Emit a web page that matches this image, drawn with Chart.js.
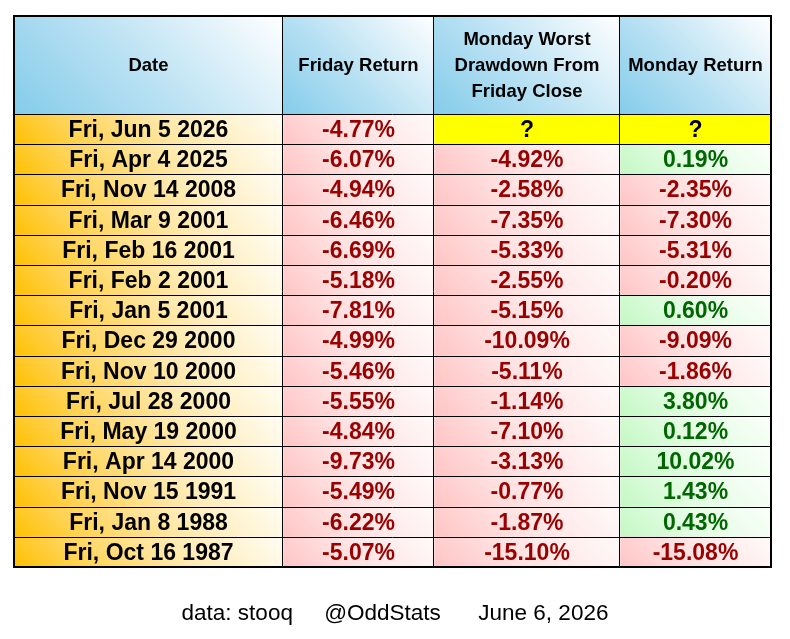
<!DOCTYPE html>
<html>
<head>
<meta charset="utf-8">
<script src="https://cdn.jsdelivr.net/npm/chart.js@4.4.0/dist/chart.umd.min.js"></script>
<style>
  html, body { margin: 0; padding: 0; background: #fff; }
  #wrap { width: 790px; height: 639px; }
</style>
</head>
<body>
<div id="wrap"><canvas id="oddChart"></canvas></div>
<script>
const dates = [
    'Fri, Jun 5 2026', 'Fri, Apr 4 2025', 'Fri, Nov 14 2008', 'Fri, Mar 9 2001',
    'Fri, Feb 16 2001', 'Fri, Feb 2 2001', 'Fri, Jan 5 2001', 'Fri, Dec 29 2000',
    'Fri, Nov 10 2000', 'Fri, Jul 28 2000', 'Fri, May 19 2000', 'Fri, Apr 14 2000',
    'Fri, Nov 15 1991', 'Fri, Jan 8 1988', 'Fri, Oct 16 1987'
];
const fridayReturn = [-4.77, -6.07, -4.94, -6.46, -6.69, -5.18, -7.81, -4.99, -5.46, -5.55, -4.84, -9.73, -5.49, -6.22, -5.07];
const mondayDrawdown = [null, -4.92, -2.58, -7.35, -5.33, -2.55, -5.15, -10.09, -5.11, -1.14, -7.10, -3.13, -0.77, -1.87, -15.10];
const mondayReturn = [null, 0.19, -2.35, -7.30, -5.31, -0.20, 0.60, -9.09, -1.86, 3.80, 0.12, 10.02, 1.43, 0.43, -15.08];
const headers = [
    ['Date'],
    ['Friday Return'],
    ['Monday Worst', 'Drawdown From', 'Friday Close'],
    ['Monday Return']
];
const footerText = 'data: stooq     @OddStats      June 6, 2026';

// layout (pixels / column widths in x-scale units)
const colEdges = [0, 269, 420, 606, 757];
const headerHeight = 98;
const FONT = "'Liberation Sans', Arial, sans-serif";

const columns = [dates, fridayReturn, mondayDrawdown, mondayReturn];

// gradient stops: bottom-left -> top-right
const fills = {
    header: [[0, '#84CCEA'], [0.45, '#B9E1F3'], [1, '#FFFFFF']],
    date: [[0, '#FFC000'], [0.22, '#FFD250'], [0.6, '#FFEAB0'], [1, '#FFFDF4']],
    neg: [[0, '#FFC4C4'], [0.4, '#FFE0E0'], [1, '#FFFAFA']],
    pos: [[0, '#C4F8C4'], [0.4, '#E0FCE0'], [1, '#FAFFFA']],
    unknown: [[0, '#FFFF00'], [1, '#FFFF00']]
};
const textColors = { date: '#000000', neg: '#990000', pos: '#006600', unknown: '#000000' };

const cellKind = (c, i) => {
    if (c === 0) return 'date';
    const v = columns[c][i];
    if (v === null) return 'unknown';
    return v < 0 ? 'neg' : 'pos';
};

const cellText = (c, i) => {
    const v = columns[c][i];
    if (c === 0) return v;
    return v === null ? '?' : v.toFixed(2) + '%';
};

// 45 degree gradient from bottom-left corner to top-right corner
const diagGradient = (ctx, x0, y0, x1, y1, stops) => {
    const L = ((x1 - x0) + (y1 - y0)) / 2;
    const g = ctx.createLinearGradient(x0, y1, x0 + L, y1 - L);
    stops.forEach(s => g.addColorStop(s[0], s[1]));
    return g;
};

const cellFill = (context, c) => {
    const chart = context.chart;
    const { x, y } = chart.scales;
    if (!x || !y || context.dataIndex === undefined || !chart.chartArea) return '#ffffff';
    const i = context.dataIndex;
    const half = (chart.chartArea.bottom - chart.chartArea.top) / (2 * dates.length);
    const yc = y.getPixelForValue(i);
    return diagGradient(chart.ctx,
        x.getPixelForValue(colEdges[c]), yc - half,
        x.getPixelForValue(colEdges[c + 1]), yc + half,
        fills[cellKind(c, i)]);
};

const tablePlugin = {
    id: 'oddTable',
    beforeDatasetsDraw(chart) {
        const { ctx, chartArea, scales: { x } } = chart;
        const top = chartArea.top - headerHeight;
        ctx.save();
        headers.forEach((lines, c) => {
            const x0 = x.getPixelForValue(colEdges[c]);
            const x1 = x.getPixelForValue(colEdges[c + 1]);
            ctx.fillStyle = diagGradient(ctx, x0, top, x1, chartArea.top, fills.header);
            ctx.fillRect(x0, top, x1 - x0, headerHeight);
            ctx.fillStyle = '#000';
            ctx.font = 'bold 18.5px ' + FONT;
            ctx.textAlign = 'center';
            ctx.textBaseline = 'middle';
            const lh = 25.7;
            const cy = top + headerHeight / 2 + 1;
            lines.forEach((t, k) => {
                ctx.fillText(t, (x0 + x1) / 2, cy + (k - (lines.length - 1) / 2) * lh);
            });
        });
        ctx.restore();
    },
    afterDatasetsDraw(chart) {
        const { ctx, chartArea } = chart;
        const x = chart.scales.x;
        const y = chart.scales.y;
        ctx.save();
        ctx.textAlign = 'center';
        ctx.textBaseline = 'middle';
        ctx.font = 'bold 23px ' + FONT;
        chart.data.datasets.forEach((ds, c) => {
            const meta = chart.getDatasetMeta(c);
            meta.data.forEach((el, i) => {
                const p = el.getProps(['x', 'base', 'y'], true);
                ctx.fillStyle = textColors[cellKind(c, i)];
                ctx.fillText(cellText(c, i), (p.x + p.base) / 2, p.y + 1.5);
            });
        });

        // grid lines
        const top = chartArea.top - headerHeight;
        const half = (chartArea.bottom - chartArea.top) / (2 * dates.length);
        ctx.strokeStyle = '#000';
        ctx.lineWidth = 1;
        ctx.beginPath();
        for (let c = 1; c < colEdges.length - 1; c++) {
            const px = Math.round(x.getPixelForValue(colEdges[c])) - 0.5;
            ctx.moveTo(px, top);
            ctx.lineTo(px, chartArea.bottom);
        }
        for (let i = 0; i < dates.length; i++) {
            const py = Math.round(y.getPixelForValue(i) - half) + 0.5;
            ctx.moveTo(chartArea.left, py);
            ctx.lineTo(chartArea.right, py);
        }
        ctx.stroke();

        ctx.lineWidth = 2;
        ctx.strokeRect(chartArea.left, top, chartArea.right - chartArea.left, chartArea.bottom - top);
        ctx.restore();
    },
    afterDraw(chart) {
        const { ctx, width } = chart;
        ctx.save();
        ctx.fillStyle = '#000';
        ctx.font = '22.5px ' + FONT;
        ctx.textAlign = 'center';
        ctx.textBaseline = 'middle';
        ctx.fillText(footerText, width / 2, 614);
        ctx.restore();
    }
};

document.addEventListener('DOMContentLoaded', () => {
    const ctx = document.getElementById('oddChart').getContext('2d');
    new Chart(ctx, {
        type: 'bar',
        data: {
            labels: dates,
            datasets: columns.map((col, c) => ({
                label: headers[c].join(' '),
                data: col.map(() => [colEdges[c], colEdges[c + 1]]),
                backgroundColor: (context) => cellFill(context, c),
                borderWidth: 0,
                grouped: false,
                barPercentage: 1,
                categoryPercentage: 1
            }))
        },
        options: {
            indexAxis: 'y',
            responsive: true,
            maintainAspectRatio: false,
            animation: false,
            layout: { padding: { left: 14, right: 19, top: 114, bottom: 72 } },
            scales: {
                x: { type: 'linear', min: colEdges[0], max: colEdges[colEdges.length - 1], display: false },
                y: { type: 'category', display: false }
            },
            plugins: {
                legend: { display: false },
                tooltip: { enabled: false },
                title: { display: false }
            }
        },
        plugins: [tablePlugin]
    });
});
</script>
</body>
</html>
